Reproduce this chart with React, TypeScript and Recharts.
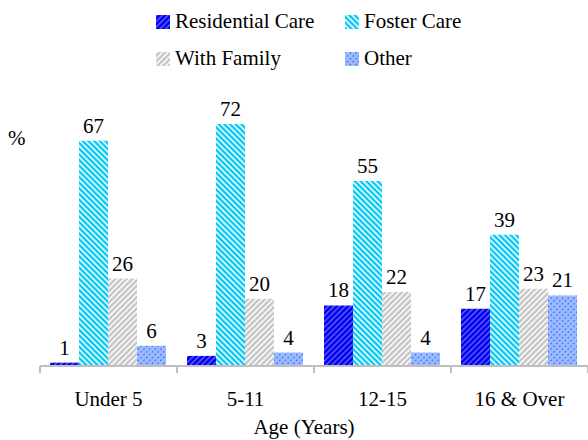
import React from "react";
import { BarChart, Bar, XAxis, YAxis, LabelList, Label } from "recharts";

const ages = ["Under 5", "5-11", "12-15", "16 & Over"];
const residential = [1, 3, 18, 17];
const foster = [67, 72, 55, 39];
const family = [26, 20, 22, 23];
const other = [6, 4, 4, 21];

const W = 588;
const H = 440;
const LEFT = 40;
const HALF_BAND = (W - LEFT) / ages.length / 2;
const FONT = "'Liberation Serif', 'Times New Roman', serif";

const data = ages.map((age, i) => ({
  age,
  residential: residential[i],
  foster: foster[i],
  family: family[i],
  other: other[i],
}));

const series = [
  { key: "residential", name: "Residential Care", fill: "url(#pResidential)", icon: "#1a1aff" },
  { key: "foster", name: "Foster Care", fill: "url(#pFoster)", icon: "#33d6ff" },
  { key: "family", name: "With Family", fill: "url(#pFamily)", icon: "#d0d0d0" },
  { key: "other", name: "Other", fill: "url(#pOther)", icon: "#7fa6ff" },
];

function AgeTick(props: any) {
  const { x, y, payload, index } = props;
  const axisY = y - 8;
  return (
    <g>
      <line x1={x - HALF_BAND} x2={x - HALF_BAND} y1={axisY} y2={axisY + 7} stroke="#bfbfbf" strokeWidth={2} />
      {index === ages.length - 1 && (
        <line x1={x + HALF_BAND} x2={x + HALF_BAND} y1={axisY} y2={axisY + 7} stroke="#bfbfbf" strokeWidth={2} />
      )}
      <text x={x} y={axisY + 40} textAnchor="middle" fontFamily={FONT} fontSize={21} fill="#000">
        {payload.value}
      </text>
    </g>
  );
}

function LegendBlock() {
  const cols = [156, 345];
  const rows = [15, 52];
  return (
    <>
      {series.map((s, i) => (
        <div
          key={s.key}
          style={{
            position: "absolute",
            left: cols[i % 2],
            top: rows[Math.floor(i / 2)] - 6,
            display: "flex",
            alignItems: "center",
            fontFamily: FONT,
            fontSize: 21,
            color: "#000",
            whiteSpace: "nowrap",
          }}
        >
          <svg width={14} height={14} style={{ marginRight: 5 }}>
            <rect width={14} height={14} fill={s.fill} />
          </svg>
          {s.name}
        </div>
      ))}
    </>
  );
}

function Patterns() {
  return (
    <svg width={0} height={0} style={{ position: "absolute" }}>
      <defs>
        <pattern id="pResidential" width={4} height={4} patternUnits="userSpaceOnUse" patternTransform="rotate(45)">
          <rect width={4} height={4} fill="#0000f0" />
          <rect width={1.3} height={4} fill="#6a6aff" />
        </pattern>
        <pattern id="pFoster" width={4} height={4} patternUnits="userSpaceOnUse" patternTransform="rotate(-45)">
          <rect width={4} height={4} fill="#00c8f5" />
          <rect width={1.6} height={4} fill="#ffffff" />
        </pattern>
        <pattern id="pFamily" width={4} height={4} patternUnits="userSpaceOnUse" patternTransform="rotate(45)">
          <rect width={4} height={4} fill="#c4c4c4" />
          <rect width={1.6} height={4} fill="#ffffff" />
        </pattern>
        <pattern id="pOther" width={4} height={4} patternUnits="userSpaceOnUse" patternTransform="rotate(45)">
          <rect width={4} height={4} fill="#9dbcff" />
          <rect width={1.2} height={2} fill="#3d6cff" />
        </pattern>
      </defs>
    </svg>
  );
}

export default function App() {
  return (
    <div style={{ position: "absolute", left: 0, top: 0, width: W, height: H, background: "#fff" }}>
      <Patterns />
      <LegendBlock />
      <div style={{ position: "absolute", left: 8, top: 126, fontFamily: FONT, fontSize: 21, color: "#000" }}>%</div>
      <BarChart
        width={W}
        height={H}
        data={data}
        margin={{ top: 97, right: 0, bottom: 0, left: LEFT }}
        barCategoryGap={10}
        barGap={0}
      >
        <YAxis hide domain={[0, 80]} />
        <XAxis
          dataKey="age"
          height={74}
          axisLine={{ stroke: "#bfbfbf", strokeWidth: 2 }}
          tickLine={false}
          tick={<AgeTick />}
          interval={0}
        >
          <Label
            content={() => (
              <text x={304} y={434} textAnchor="middle" fontFamily={FONT} fontSize={21} fill="#000">
                Age (Years)
              </text>
            )}
          />
        </XAxis>
        {series.map((s) => (
          <Bar key={s.key} dataKey={s.key} name={s.name} fill={s.fill} isAnimationActive={false}>
            <LabelList
              dataKey={s.key}
              position="top"
              offset={8}
              fontFamily={FONT}
              fontSize={21}
              fill="#000"
            />
          </Bar>
        ))}
      </BarChart>
    </div>
  );
}
